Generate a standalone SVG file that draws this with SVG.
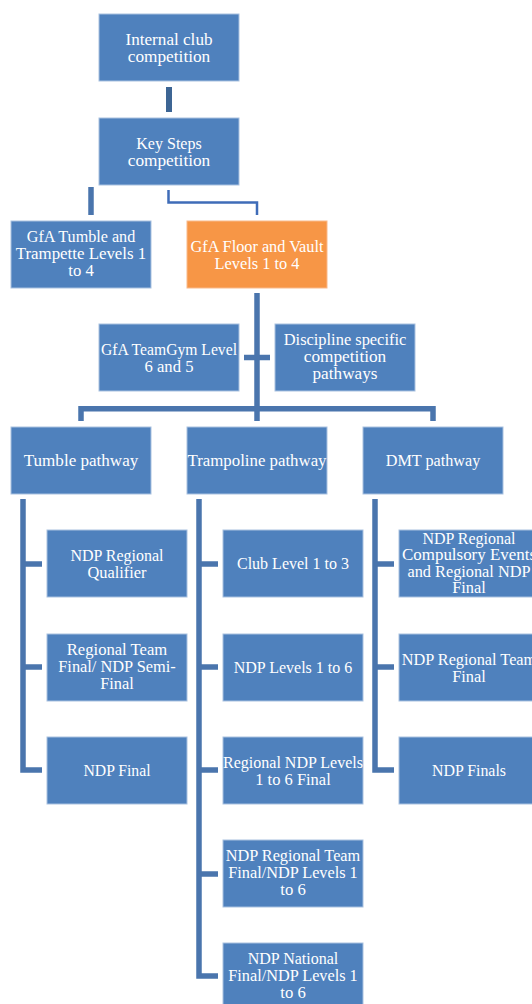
<svg xmlns="http://www.w3.org/2000/svg" width="532" height="1004" viewBox="0 0 532 1004">
<style>
.box{fill:#4f81bd;stroke:#a9c1e0;stroke-width:1}
.orange{fill:#f79646;stroke:#f9b98a}
.t{font-family:"Liberation Serif",serif;font-size:16px;fill:#ffffff;text-anchor:middle}
.c{stroke:#4a75ad;stroke-width:5.5;fill:none;stroke-linejoin:miter}
.thin{stroke:#3f6cb8;stroke-width:2.5;fill:none}
</style>
<rect width="532" height="1004" fill="#ffffff"/>
<g id="connectors">
<path class="c" d="M169,87 V112" style="stroke:#3d6594;stroke-width:6"/>
<path class="c" d="M91,187 V215"/>
<path class="thin" d="M168.5,190 V202.5 H257 V215"/>
<path class="c" d="M257,293 V421"/>
<path class="c" d="M244,357.5 H270"/>
<path class="c" d="M81,421 V408.7 H433 V421"/>
<path class="c" d="M23,499 V770 H42 M23,564 H42 M23,667 H42"/>
<path class="c" d="M199,499 V976 H218 M199,564 H218 M199,667 H218 M199,770 H218 M199,874 H218"/>
<path class="c" d="M375,499 V770 H394 M375,564 H394 M375,667 H394"/>
</g>
<g id="internal-club"><rect class="box" x="99" y="14" width="140" height="67"/><text class="t" x="169" y="44.5" textLength="87" lengthAdjust="spacingAndGlyphs">Internal club</text><text class="t" x="169" y="61.5" textLength="82.5" lengthAdjust="spacingAndGlyphs">competition</text></g>
<g id="key-steps"><rect class="box" x="99" y="118" width="140" height="67"/><text class="t" x="169" y="148.5" textLength="65.5" lengthAdjust="spacingAndGlyphs">Key Steps</text><text class="t" x="169" y="165.5" textLength="82.5" lengthAdjust="spacingAndGlyphs">competition</text></g>
<g id="gfa-tumble"><rect class="box" x="11" y="221" width="140" height="67"/><text class="t" x="81" y="242.3" textLength="108.5" lengthAdjust="spacingAndGlyphs">GfA Tumble and</text><text class="t" x="81" y="259.3" textLength="130.5" lengthAdjust="spacingAndGlyphs">Trampette Levels 1</text><text class="t" x="81" y="276.3" textLength="25.5" lengthAdjust="spacingAndGlyphs">to 4</text></g>
<g id="gfa-floor"><rect class="box orange" x="187" y="221" width="140" height="67"/><text class="t" x="257" y="251.5" textLength="133" lengthAdjust="spacingAndGlyphs">GfA Floor and Vault</text><text class="t" x="257" y="268.5" textLength="85" lengthAdjust="spacingAndGlyphs">Levels 1 to 4</text></g>
<g id="gfa-teamgym"><rect class="box" x="99" y="324" width="140" height="67"/><text class="t" x="169" y="354.5" textLength="136" lengthAdjust="spacingAndGlyphs">GfA TeamGym Level</text><text class="t" x="169" y="371.5" textLength="49" lengthAdjust="spacingAndGlyphs">6 and 5</text></g>
<g id="discipline"><rect class="box" x="275" y="324" width="140" height="67"/><text class="t" x="345" y="345.3" textLength="122.5" lengthAdjust="spacingAndGlyphs">Discipline specific</text><text class="t" x="345" y="362.3" textLength="82.5" lengthAdjust="spacingAndGlyphs">competition</text><text class="t" x="345" y="379.3" textLength="65" lengthAdjust="spacingAndGlyphs">pathways</text></g>
<g id="tumble-pathway"><rect class="box" x="11" y="427" width="140" height="67"/><text class="t" x="81" y="466" textLength="114.5" lengthAdjust="spacingAndGlyphs">Tumble pathway</text></g>
<g id="trampoline-pathway"><rect class="box" x="187" y="427" width="140" height="67"/><text class="t" x="257" y="466" textLength="139" lengthAdjust="spacingAndGlyphs">Trampoline pathway</text></g>
<g id="dmt-pathway"><rect class="box" x="363" y="427" width="140" height="67"/><text class="t" x="433" y="466" textLength="94.5" lengthAdjust="spacingAndGlyphs">DMT pathway</text></g>
<g id="t1"><rect class="box" x="47" y="530" width="140" height="67"/><text class="t" x="117" y="560.5" textLength="93" lengthAdjust="spacingAndGlyphs">NDP Regional</text><text class="t" x="117" y="577.5" textLength="59" lengthAdjust="spacingAndGlyphs">Qualifier</text></g>
<g id="t2"><rect class="box" x="47" y="634" width="140" height="67"/><text class="t" x="117" y="655.3" textLength="100.5" lengthAdjust="spacingAndGlyphs">Regional Team</text><text class="t" x="117" y="672.3" textLength="117.5" lengthAdjust="spacingAndGlyphs">Final/ NDP Semi-</text><text class="t" x="117" y="689.3" textLength="33.5" lengthAdjust="spacingAndGlyphs">Final</text></g>
<g id="t3"><rect class="box" x="47" y="737" width="140" height="67"/><text class="t" x="117" y="776" textLength="67" lengthAdjust="spacingAndGlyphs">NDP Final</text></g>
<g id="p1"><rect class="box" x="223" y="530" width="140" height="67"/><text class="t" x="293" y="569" textLength="112" lengthAdjust="spacingAndGlyphs">Club Level 1 to 3</text></g>
<g id="p2"><rect class="box" x="223" y="634" width="140" height="67"/><text class="t" x="293" y="673" textLength="118.5" lengthAdjust="spacingAndGlyphs">NDP Levels 1 to 6</text></g>
<g id="p3"><rect class="box" x="223" y="737" width="140" height="67"/><text class="t" x="293" y="767.5" textLength="140" lengthAdjust="spacingAndGlyphs">Regional NDP Levels</text><text class="t" x="293" y="784.5" textLength="75.5" lengthAdjust="spacingAndGlyphs">1 to 6 Final</text></g>
<g id="p4"><rect class="box" x="223" y="840" width="140" height="67"/><text class="t" x="293" y="861.3" textLength="134.5" lengthAdjust="spacingAndGlyphs">NDP Regional Team</text><text class="t" x="293" y="878.3" textLength="129.5" lengthAdjust="spacingAndGlyphs">Final/NDP Levels 1</text><text class="t" x="293" y="895.3" textLength="25.5" lengthAdjust="spacingAndGlyphs">to 6</text></g>
<g id="p5"><rect class="box" x="223" y="943" width="140" height="67"/><text class="t" x="293" y="964.3" textLength="90.5" lengthAdjust="spacingAndGlyphs">NDP National</text><text class="t" x="293" y="981.3" textLength="129.5" lengthAdjust="spacingAndGlyphs">Final/NDP Levels 1</text><text class="t" x="293" y="998.3" textLength="25.5" lengthAdjust="spacingAndGlyphs">to 6</text></g>
<g id="d1"><rect class="box" x="399" y="530" width="140" height="67"/><text class="t" x="469" y="543.5" textLength="93" lengthAdjust="spacingAndGlyphs">NDP Regional</text><text class="t" x="469" y="560" textLength="134" lengthAdjust="spacingAndGlyphs">Compulsory Events</text><text class="t" x="469" y="576.5" textLength="123" lengthAdjust="spacingAndGlyphs">and Regional NDP</text><text class="t" x="469" y="593" textLength="33.5" lengthAdjust="spacingAndGlyphs">Final</text></g>
<g id="d2"><rect class="box" x="399" y="634" width="140" height="67"/><text class="t" x="469" y="664.5" textLength="134.5" lengthAdjust="spacingAndGlyphs">NDP Regional Team</text><text class="t" x="469" y="681.5" textLength="33.5" lengthAdjust="spacingAndGlyphs">Final</text></g>
<g id="d3"><rect class="box" x="399" y="737" width="140" height="67"/><text class="t" x="469" y="776" textLength="74" lengthAdjust="spacingAndGlyphs">NDP Finals</text></g>
</svg>
